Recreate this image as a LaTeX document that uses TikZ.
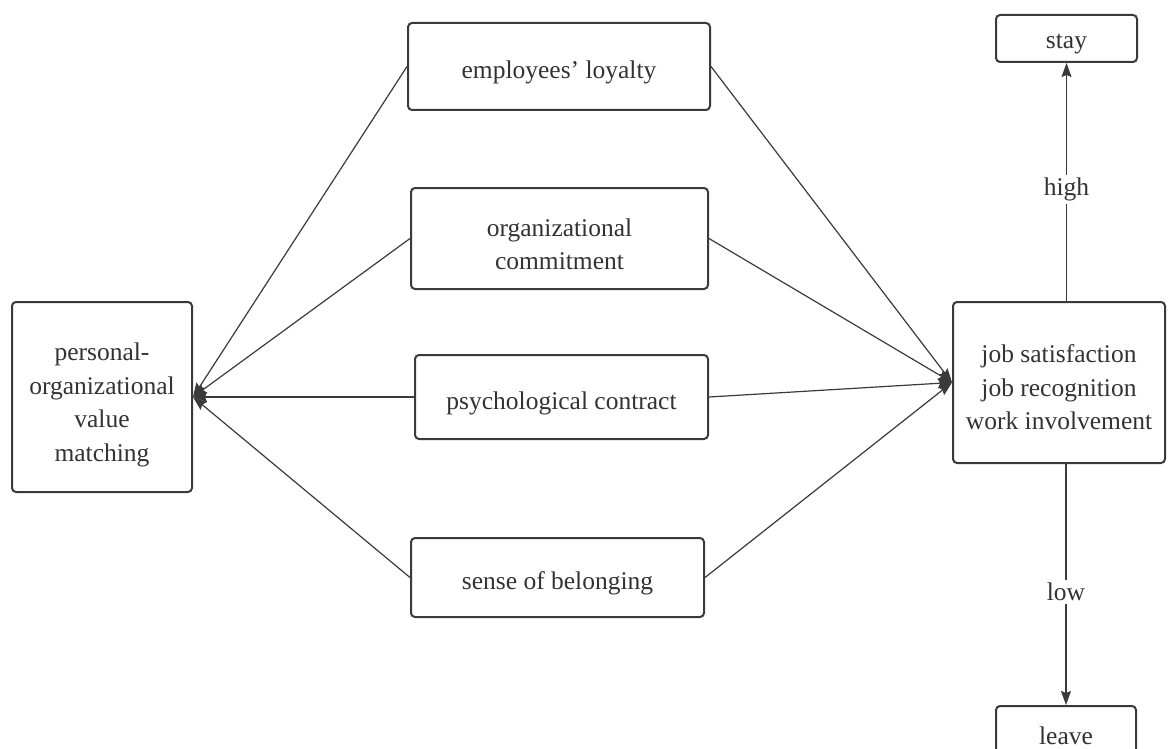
\documentclass[tikz,border=0pt]{standalone}
\usepackage{fontspec}
\setmainfont{Liberation Serif}
\newfontfamily\labelface{Liberation Serif}
\usetikzlibrary{arrows.meta}
\definecolor{ink}{HTML}{333333}
\definecolor{wire}{HTML}{3A3A3A}
\tikzset{
  box/.style={draw=wire, line width=2pt, rounded corners=4pt, fill=white,
    inner sep=0pt},
  txt/.style={text=ink, align=center, inner sep=0pt,
    font=\labelface\fontsize{25.5}{33.5}\selectfont},
  link/.style={draw=wire, line width=1.2pt,
    -{Stealth[length=14pt,width=10pt,inset=2pt]}},
  tag/.style={fill=white, text=ink, inner sep=3pt,
    font=\labelface\fontsize{25.5}{30}\selectfont}
}
\begin{document}
\begin{tikzpicture}[x=1pt,y=-1pt]
\useasboundingbox (0,0) rectangle (1172,749);

% left and right blocks
\node[box, minimum width=180pt, minimum height=190pt] (pov) at (102,397) {};
\node[txt] (pov-t) at ([yshift=-8pt]pov.center)
  {personal-\\organizational\\value\\matching};
\node[box, minimum width=212pt, minimum height=161pt] (rb) at (1059,382.5) {};
\node[txt] (rb-t) at ([yshift=-5pt]rb.center)
  {job satisfaction\\job recognition\\work involvement};

% mediating factors
\node[box, minimum width=302pt, minimum height=87pt] (loy) at (559,66.5) {};
\node[txt] (loy-t) at ([yshift=-6pt]loy.center) {employees’ loyalty};
\node[box, minimum width=297pt, minimum height=101pt] (com) at (559.5,238.5) {};
\node[txt] (com-t) at ([yshift=-6pt]com.center) {organizational\\commitment};
\node[box, minimum width=293pt, minimum height=84pt] (psy) at (561.5,397) {};
\node[txt] (psy-t) at ([yshift=-6pt]psy.center) {psychological contract};
\node[box, minimum width=293pt, minimum height=79pt] (bel) at (557.5,577.5) {};
\node[txt] (bel-t) at ([yshift=-6pt]bel.center) {sense of belonging};

% outcomes
\node[box, minimum width=141pt, minimum height=47pt] (stay) at (1066.5,38.5) {};
\node[txt] (stay-t) at ([yshift=-6pt]stay.center) {stay};
\node[box, minimum width=140pt, minimum height=47pt] (leave) at (1066,729.5) {};
\node[txt] (leave-t) at ([yshift=-6pt]leave.center) {leave};

% factors to both ends
\foreach \m in {loy,com,psy,bel}{
  \draw[link] (\m.west) -- (pov.east);
  \draw[link] (\m.east) -- (rb.west);
}

% high / low branches
\draw[link] (rb.north -| stay.south) -- node[tag, pos=0.47] (hi) {high} (stay.south);
\draw[link] (rb.south -| leave.north) -- node[tag, pos=0.53] (lo) {low} (leave.north);
\end{tikzpicture}
\end{document}
